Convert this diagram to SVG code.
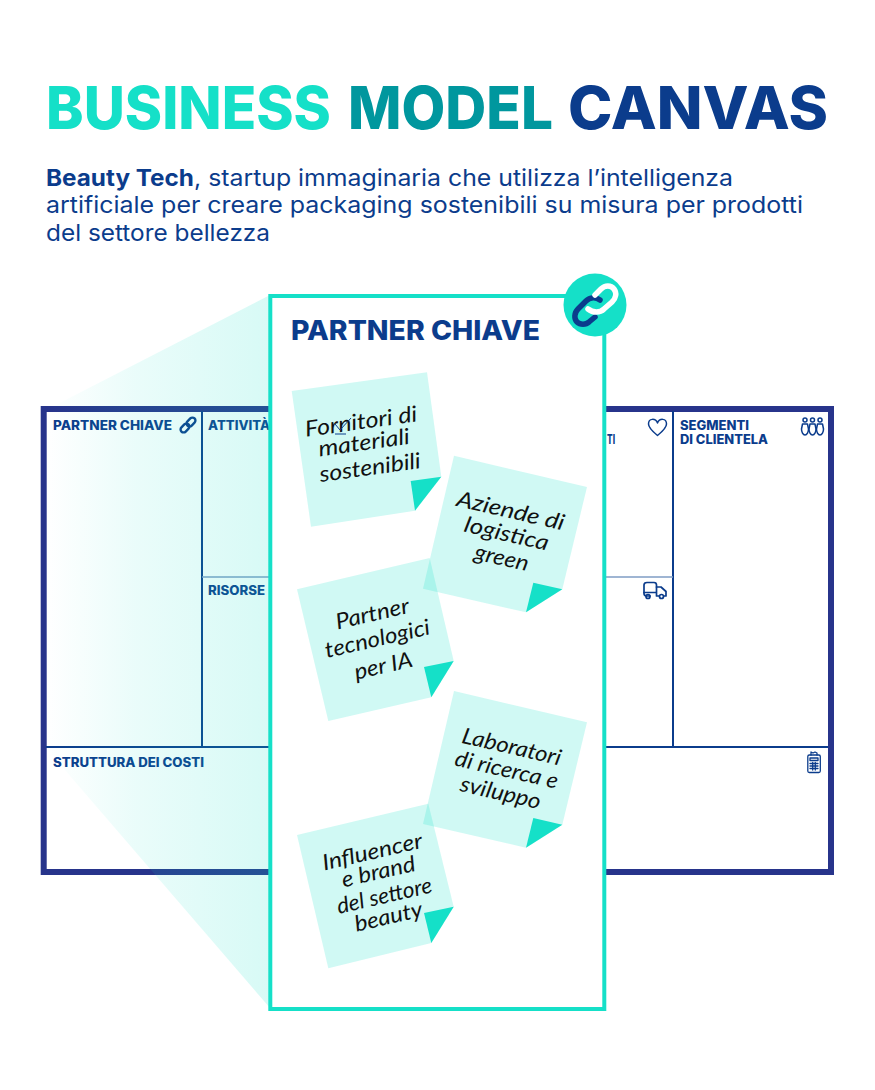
<svg xmlns="http://www.w3.org/2000/svg" width="875" height="1090" viewBox="0 0 875 1090">
<defs>
<linearGradient id="fade" gradientUnits="userSpaceOnUse" x1="46" y1="0" x2="270" y2="0"><stop offset="0" stop-color="#15e0c8" stop-opacity="0"/><stop offset="0.4" stop-color="#15e0c8" stop-opacity="0.09"/><stop offset="1" stop-color="#15e0c8" stop-opacity="0.17"/></linearGradient>
</defs>
<style>
.p{font-family:"Inter","Liberation Sans",sans-serif}
.t{font-weight:800;font-size:59.500px}
.b{font-size:23px;fill:#0b3c8c;font-weight:400}
.l{font-weight:800;font-size:12.500px;fill:#0b3c8c}
.h{font-family:"Lato","DejaVu Sans",sans-serif;font-style:italic;font-size:22px;fill:#111;text-anchor:middle}
.n{fill:#15e0c8;fill-opacity:.2}
.f{fill:#15e0c8}
.ic{fill:none;stroke:#0b3c8c;stroke-width:1.500;stroke-linecap:round;stroke-linejoin:round}
</style>
<rect width="875" height="1090" fill="#fff"/>
<g id="title">
<text class="p t" x="46" y="129" fill="#15e0c8" textLength="285" lengthAdjust="spacingAndGlyphs">BUSINESS</text>
<text class="p t" x="348" y="129" fill="#00979e" textLength="205" lengthAdjust="spacingAndGlyphs">MODEL</text>
<text class="p t" x="568" y="129" fill="#0b3c8c" textLength="260" lengthAdjust="spacingAndGlyphs">CANVAS</text>
</g>
<g id="intro">
<text class="p b" x="46" y="186" style="font-weight:700" textLength="148" lengthAdjust="spacingAndGlyphs">Beauty Tech</text>
<text class="p b" x="194" y="186" textLength="539" lengthAdjust="spacingAndGlyphs">, startup immaginaria che utilizza l’intelligenza</text>
<text class="p b" x="46" y="213" textLength="757" lengthAdjust="spacingAndGlyphs">artificiale per creare packaging sostenibili su misura per prodotti</text>
<text class="p b" x="46" y="241" textLength="224" lengthAdjust="spacingAndGlyphs">del settore bellezza</text>
</g>
<g id="canvas">
<rect x="43.700" y="409" width="787.300" height="463" fill="#fff" stroke="#27348b" stroke-width="6"/>
<path d="M202 411V747M673 411V747M46 747H828" fill="none" stroke="#0b3c8c" stroke-width="2"/>
<path d="M202 577H673" fill="none" stroke="#7f9cc4" stroke-width="1.500"/>
<text class="p l" x="53" y="430" textLength="119" lengthAdjust="spacingAndGlyphs">PARTNER CHIAVE</text>
<text class="p l" x="208" y="430" textLength="62" lengthAdjust="spacingAndGlyphs">ATTIVITÀ</text>
<text class="p l" x="208" y="595" textLength="57" lengthAdjust="spacingAndGlyphs">RISORSE</text>
<text class="p l" x="607" y="444" textLength="8" lengthAdjust="spacingAndGlyphs">TI</text>
<text class="p l" x="680" y="430" textLength="69" lengthAdjust="spacingAndGlyphs">SEGMENTI</text>
<text class="p l" x="680" y="444" textLength="88" lengthAdjust="spacingAndGlyphs">DI CLIENTELA</text>
<text class="p l" x="53" y="767" textLength="151" lengthAdjust="spacingAndGlyphs">STRUTTURA DEI COSTI</text>
<g id="icon-link-small" class="ic" style="stroke-width:2.400">
<rect x="-5" y="-3" width="10" height="6" rx="3" transform="translate(185,428) rotate(-45)"/>
<rect x="-5" y="-3" width="10" height="6" rx="3" transform="translate(191,422) rotate(-45)"/>
</g>
<path id="icon-heart" class="ic" d="M657.500 435.500C652 431 648.500 427.500 648.500 424C648.500 418 655.500 418 657.500 423C659.500 418 666.500 418 666.500 424C666.500 427.500 663 431 657.500 435.500Z"/>
<g id="icon-people" class="ic">
<circle cx="805" cy="420" r="2"/><circle cx="812.500" cy="420" r="2"/><circle cx="820" cy="420" r="2"/>
<path d="M802.500 424H807.500L808.500 429C808.500 432 807 435 805 435C803 435 801.500 432 801.500 429Z"/>
<path d="M810 424H815L816 429C816 432 814.500 435 812.500 435C810.500 435 809 432 809 429Z"/>
<path d="M817.500 424H822.500L823.500 429C823.500 432 822 435 820 435C818 435 816.500 432 816.500 429Z"/>
</g>
<g id="icon-truck" class="ic" style="stroke-width:1.700">
<path d="M650 596H647C645 596 644 595 644 593.500V585C644 583 645 582.500 647 582.500H654C656 582.500 656.500 583.500 656.500 585V596H659"/>
<path d="M656.500 587H661L666 591.500V596H664"/><circle cx="648" cy="596.500" r="2"/><circle cx="661.500" cy="596.500" r="2"/><path d="M644 592.500H656"/>
</g>
<g id="icon-calc" class="ic" style="stroke-width:1.300">
<rect x="807.800" y="755" width="12.500" height="17.500" rx="1.500"/><path d="M811 755V752L813 753L815 752L817 753V755"/><rect x="810" y="758" width="8" height="2.500"/><path d="M810 763.500H818M810 766H818M810 768.500H818M812.700 762.500V770M815.300 762.500V770"/>
</g>
</g>
<polygon id="zoom-beam" points="46,410 270,295 270,1008 46,748" fill="url(#fade)"/>
<g id="panel">
<rect x="270.300" y="296" width="334" height="713" fill="#fff" stroke="#15e0c8" stroke-width="4"/>
<text class="p" x="291" y="340" font-weight="800" font-size="27" fill="#0b3c8c" textLength="249" lengthAdjust="spacingAndGlyphs">PARTNER CHIAVE</text>
</g>
<g id="badge">
<circle cx="595" cy="305" r="31.500" fill="#15e0c8"/>
<path d="M600 300C596 297 590 297 586 301L578 309C574 313 574 319 577 322C580 325 586 325 589 322L595 317" fill="none" stroke="#0b3c8c" stroke-width="5.500" stroke-linecap="round"/>
<path d="M595 295L601 289C605 285 611 285 614 289C617 293 616 298 612 302L604 309C600 313 593 313 588 309" fill="none" stroke="#fff" stroke-width="5.500" stroke-linecap="round"/>
</g>
<g id="note-1">
<polygon class="n" points="291.700,391 427,372.300 441.300,476.700 415,510.700 311,526.700"/>
<polygon class="f" points="410.700,481 441.300,476.700 415,510.700"/>
<g class="h"><text transform="translate(362,429) rotate(-8)" textLength="113" lengthAdjust="spacingAndGlyphs">Fornitori di</text><text transform="translate(365,450) rotate(-8)" textLength="92" lengthAdjust="spacingAndGlyphs">materiali</text><text transform="translate(371,475) rotate(-8)" textLength="102" lengthAdjust="spacingAndGlyphs">sostenibili</text></g>
<path d="M335 424L340 430L351 418M335 434H346" fill="none" stroke="#0b3c8c" stroke-width="1"/>
</g>
<g id="note-2">
<polygon class="n" points="454,455.700 587,487 562.300,589.300 526,612.300 423,588.700"/>
<polygon class="f" points="533.300,582.700 562.300,589.300 526,612.300"/>
<g class="h"><text transform="translate(509,518) rotate(13)" textLength="110" lengthAdjust="spacingAndGlyphs">Aziende di</text><text transform="translate(505,541) rotate(13)" textLength="86" lengthAdjust="spacingAndGlyphs">logistica</text><text transform="translate(500,565) rotate(13)" textLength="55" lengthAdjust="spacingAndGlyphs">green</text></g>
</g>
<g id="note-3">
<polygon class="n" points="297,589.300 429.700,558 453.700,661 431.300,697.300 328.300,721"/>
<polygon class="f" points="424,667 453.700,661 431.300,697.300"/>
<g class="h"><text transform="translate(374,621) rotate(-13)" textLength="75" lengthAdjust="spacingAndGlyphs">Partner</text><text transform="translate(379,646) rotate(-13)" textLength="107" lengthAdjust="spacingAndGlyphs">tecnologici</text><text transform="translate(385,673) rotate(-13)" textLength="59" lengthAdjust="spacingAndGlyphs">per IA</text></g>
</g>
<g id="note-4">
<polygon class="n" points="454,691 587,722.300 562.300,824.700 526,847.700 423,824"/>
<polygon class="f" points="533.300,818 562.300,824.700 526,847.700"/>
<g class="h"><text transform="translate(510,754) rotate(13)" textLength="101" lengthAdjust="spacingAndGlyphs">Laboratori</text><text transform="translate(505,777) rotate(13)" textLength="105" lengthAdjust="spacingAndGlyphs">di ricerca e</text><text transform="translate(499,800) rotate(13)" textLength="82" lengthAdjust="spacingAndGlyphs">sviluppo</text></g>
</g>
<g id="note-5">
<polygon class="n" points="297,835 428.300,803.700 453.700,906.700 431.300,943 328.300,968.300"/>
<polygon class="f" points="424,913 453.700,906.700 431.300,943"/>
<g class="h"><text transform="translate(374,859) rotate(-13)" textLength="102" lengthAdjust="spacingAndGlyphs">Influencer</text><text transform="translate(380,879) rotate(-13)" textLength="75" lengthAdjust="spacingAndGlyphs">e brand</text><text transform="translate(386,903) rotate(-13)" textLength="97" lengthAdjust="spacingAndGlyphs">del settore</text><text transform="translate(390,924) rotate(-13)" textLength="69" lengthAdjust="spacingAndGlyphs">beauty</text></g>
</g>
</svg>
